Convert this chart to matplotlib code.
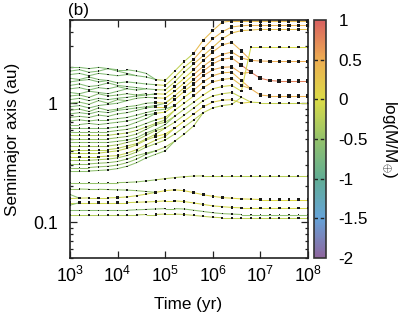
import numpy as np
import matplotlib
matplotlib.use('Agg')
import matplotlib.pyplot as plt
from matplotlib.collections import LineCollection
from matplotlib.colors import LinearSegmentedColormap, Normalize
from matplotlib import ticker

nan = np.nan

# sample times (every 0.2 dex), yr
time_yr = [1.0e3, 1.58e3, 2.51e3, 3.98e3, 6.31e3, 1.0e4, 1.58e4, 2.51e4, 3.98e4, 6.31e4,
           1.0e5, 1.58e5, 2.51e5, 3.98e5, 6.31e5, 1.0e6, 1.58e6, 2.51e6, 3.98e6, 6.31e6,
           1.0e7, 1.58e7, 2.51e7, 3.98e7, 6.31e7, 1.0e8]
# log(M/Mearth) of each body is given at these times
mass_step_yr = [1.0e3, 6.31e4, 3.98e5, 3.98e6]

# bodies that survive the early phase and migrate outward (semimajor axis, au)
rising_a = [
    [1.74, 1.78, 1.70, 1.78, 1.74, 1.70, 1.74, 1.70, 1.66, 1.58, 1.55, 1.86, 2.24, 2.63, 3.39, 4.07, 4.79, 4.90, 4.90, 4.90, 4.90, 4.90, 4.90, 4.90, 4.90, 4.90],
    [1.51, 1.55, 1.58, 1.51, 1.55, 1.48, 1.51, 1.48, 1.45, 1.43, 1.41, 1.66, 2.00, 2.34, 2.88, 3.47, 3.98, 4.37, 4.47, 4.52, 4.52, 4.52, 4.52, 4.52, 4.52, 4.52],
    [1.32, 1.35, 1.29, 1.35, 1.32, 1.38, 1.32, 1.29, 1.32, 1.30, 1.29, 1.51, 1.82, 2.14, 2.51, 2.95, 3.47, 3.89, 4.07, 4.12, 4.17, 4.17, 4.17, 4.17, 4.17, 4.17],
    [1.15, 1.17, 1.12, 1.20, 1.15, 1.17, 1.20, 1.17, 1.20, 1.20, 1.19, 1.38, 1.62, 1.91, 2.29, 2.69, 3.09, 3.24, 2.75, 2.29, 2.26, 2.25, 2.25, 2.25, 2.25, 2.25],
    [1.00, 1.02, 0.98, 1.05, 1.00, 1.07, 1.05, 1.10, 1.12, 1.11, 1.10, 1.26, 1.48, 1.74, 2.04, 2.34, 2.57, 2.69, 2.40, 2.29],
    [0.871, 0.891, 0.851, 0.912, 0.871, 0.891, 0.933, 0.955, 1.00, 1.01, 1.00, 1.15, 1.35, 1.58, 1.86, 2.14, 2.34, 2.40, 2.09, 1.82, 1.62, 1.55, 1.53, 1.53, 1.53, 1.53],
    [0.759, 0.776, 0.759, 0.794, 0.776, 0.813, 0.832, 0.871, 0.912, 0.933, 0.933, 1.07, 1.26, 1.45, 1.70, 1.91, 2.00, 2.02, 1.78, 1.82],
    [0.661, 0.661, 0.676, 0.661, 0.676, 0.692, 0.708, 0.741, 0.794, 0.822, 0.841, 0.955, 1.12, 1.29, 1.51, 1.70, 1.80, 1.82, 1.55, 1.32, 1.17, 1.15, 1.15, 1.15, 1.15, 1.15],
    [0.575, 0.575, 0.575, 0.575, 0.575, 0.589, 0.603, 0.631, 0.676, 0.724, 0.759, 0.871, 1.00, 1.15, 1.35, 1.51, 1.58, 1.62, 1.41, 1.32],
    [0.501, 0.501, 0.501, 0.501, 0.501, 0.513, 0.525, 0.550, 0.603, 0.661, 0.692, 0.776, 0.891, 1.02, 1.17, 1.32, 1.38, 1.41, 1.26, 2.95, 2.95, 2.95, 2.95, 2.95, 2.95, 2.95],
    [0.437, 0.437, 0.437, 0.437, 0.437, 0.447, 0.468, 0.490, 0.537, 0.589, 0.617, 0.692, 0.794, 0.912, 1.05, 1.15, 1.20, 1.23, 1.12, 1.02, 1.01, 1.01, 1.01, 1.01, 1.01, 1.01],
    [0.380, 0.380, 0.380, 0.380, 0.389, 0.398, 0.417, 0.447, 0.490, 0.525, 0.550, 0.617, 0.708, 0.813, 0.933, 1.02, 1.06, 1.07, 1.00, 1.02],
    [0.331, 0.331, 0.331, 0.335, 0.339, 0.347, 0.363, 0.389, 0.427, 0.457, 0.490, 0.550, 0.631, 0.724, 0.832, 0.912, 0.955, 0.977, 1.12],
    [0.288, 0.288, 0.288, 0.292, 0.295, 0.302, 0.316, 0.339, 0.372, 0.398, 0.427, 0.479, 0.550, 0.646, 0.832],
    [0.269, 0.269, 0.269, 0.272, 0.275, 0.282, 0.295, 0.316, 0.347, 0.372, 0.398, 0.479],
]
rising_m = [
    [-0.65, -0.2, 0.35, 0.35], [-0.65, -0.1, 0.4, 0.45], [-0.65, -0.2, 0.3, 0.3],
    [-0.6, 0.0, 0.4, 0.5], [-0.6, 0.05, 0.45, 0.45], [-0.6, 0.1, 0.5, 0.8],
    [-0.6, 0.1, 0.5, 0.5], [-0.6, 0.0, 0.4, 0.45], [-0.55, -0.1, 0.3, 0.3],
    [-0.45, -0.3, -0.05, -0.05], [-0.35, -0.25, -0.15, -0.15], [-0.2, 0.0, 0.1, 0.1],
    [-0.4, -0.3, -0.2, -0.2], [-0.5, -0.3, -0.3, -0.3], [-0.55, -0.5, -0.5, -0.5],
]

# bodies that collide early in the outer belt
merged_a = [
    [2.00, 2.00, 1.95, 2.00, 1.95, 1.91, 1.91, 1.86, 1.78, 1.58],
    [1.86, 1.91, 1.82, 1.86, 1.95, 1.86, 1.78, 1.70],
    [1.62, 1.58, 1.66, 1.58, 1.55],
    [1.41, 1.45, 1.38, 1.41, 1.48, 1.41, 1.38, 1.35, 1.32],
    [1.23, 1.20, 1.26, 1.23, 1.20, 1.26, 1.32],
    [1.07, 1.10, 1.05, 1.10, 1.07, 1.10, 1.12, 1.15, 1.17, 1.20],
    [0.933, 0.955, 0.912, 0.955, 0.977, 1.00, 1.05],
    [0.813, 0.832, 0.813, 0.851, 0.832, 0.871, 0.891, 0.912, 0.933, 0.955, 1.00, 1.15],
    [0.708, 0.724, 0.708, 0.724, 0.724, 0.741, 0.759, 0.794, 0.832, 0.871, 0.891, 0.955],
    [0.617, 0.617, 0.617, 0.617, 0.617, 0.631, 0.646, 0.692, 0.741, 0.822],
    [0.537, 0.537, 0.537, 0.537, 0.537, 0.550, 0.562, 0.589, 0.631, 0.676, 0.724, 0.871],
    [0.468, 0.468, 0.468, 0.468, 0.468, 0.479, 0.490, 0.513, 0.562, 0.603, 0.661, 0.776],
    [0.407, 0.407, 0.407, 0.407, 0.407, 0.417, 0.437, 0.457, 0.501, 0.550, 0.617],
    [0.355, 0.355, 0.355, 0.355, 0.359, 0.363, 0.380, 0.407, 0.447, 0.490, 0.525, 0.617],
    [0.309, 0.309, 0.309, 0.313, 0.316, 0.324, 0.339, 0.363, 0.380, 0.398],
]
merged_m = [-0.65, -0.65, -0.65, -0.65, -0.65, -0.65, -0.65, -0.65,
            -0.6, -0.6, -0.3, -0.55, -0.25, -0.15, -0.5]

# close-in bodies
inner_a = [
    [0.215, 0.215, 0.215, 0.215, 0.215, 0.215, 0.216, 0.218, 0.222, 0.227, 0.232, 0.237, 0.241, 0.244, 0.245, 0.245, 0.245, 0.245, 0.245, 0.245, 0.245, 0.245, 0.245, 0.245, 0.245, 0.245],
    [0.158, 0.159, 0.160, 0.160, 0.160, 0.161, 0.163, 0.167, 0.172, 0.178, 0.184, 0.187, 0.184, 0.177, 0.170, 0.165, 0.161, 0.159, 0.157, 0.156, 0.155, 0.155, 0.155, 0.155, 0.155, 0.155],
    [0.190, 0.190, 0.189, 0.189, 0.188, 0.187, 0.186, 0.184, 0.181, 0.178],
    [0.171, 0.159],
    [0.146, 0.146, 0.146, 0.146, 0.146, 0.146, 0.146, 0.147, 0.148, 0.149, 0.151, 0.151, 0.149, 0.145, 0.141, 0.137, 0.135, 0.133, 0.132, 0.132, 0.132, 0.132, 0.132, 0.132, 0.132, 0.132],
    [0.139, 0.146],
    [0.126, 0.126, 0.126, 0.126, 0.126, 0.126, 0.126, 0.127, 0.128, 0.129, 0.130, 0.130, 0.129, 0.126, 0.123, 0.120, 0.118, 0.117, 0.116, 0.116, 0.116, 0.116, 0.116, 0.116, 0.116, 0.116],
    [0.115, 0.115, 0.115, 0.115, 0.115, 0.115, 0.115, 0.115, 0.116, 0.116, 0.117, 0.117, 0.116, 0.114, 0.112, 0.110, 0.109, 0.109, 0.109, 0.109, 0.109, 0.109, 0.109, 0.109, 0.109, 0.109],
]
inner_m = [[-0.5, -0.3, -0.25, -0.25], [-0.1, 0.05, 0.05, 0.05], -0.5, -0.6,
           [-0.1, -0.05, -0.05, -0.05], -0.6, [-0.6, -0.55, -0.55, -0.55], [-0.3, -0.2, -0.2, -0.2]]

cbar_ticks = [1, 0.5, 0, -0.5, -1, -1.5, -2]
cbar_labels = ['1', '0.5', '0', '-0.5', '-1', '-1.5', '-2']

plt.rcParams['font.family'] = ['Liberation Sans', 'DejaVu Sans']
plt.rcParams['mathtext.fontset'] = 'custom'
plt.rcParams['mathtext.rm'] = 'Liberation Sans'
plt.rcParams['mathtext.it'] = 'Liberation Sans:italic'
plt.rcParams['axes.unicode_minus'] = False
fs = 12.3

cmap = LinearSegmentedColormap.from_list('mass', [
    (0.56, 0.40, 0.62), (0.40, 0.64, 0.85), (0.38, 0.68, 0.58), (0.58, 0.76, 0.42),
    (0.86, 0.86, 0.28), (0.93, 0.68, 0.32), (0.85, 0.38, 0.38)])
norm = Normalize(-2, 1)

fig = plt.figure(figsize=(4.02, 3.2), dpi=100)
ax = fig.add_axes([70/402, 62/320, 238/402, 238/320])
ax.set_xscale('log')
ax.set_yscale('log')
ax.set_xlim(1e3, 1e8)
ax.set_ylim(0.05, 5.0)

t = np.array(time_yr)
k_mass = np.searchsorted(mass_step_yr, t, side='right') - 1

def draw(a, m):
    a = np.array(list(a) + [nan] * (len(t) - len(a)))
    mm = np.atleast_1d(np.array(m, dtype=float))
    mass = mm[np.minimum(k_mass, len(mm) - 1)]
    pts = np.column_stack([t, a])
    segs = np.stack([pts[:-1], pts[1:]], axis=1)
    ok = np.isfinite(a[:-1]) & np.isfinite(a[1:])
    lc = LineCollection(segs[ok], colors=cmap(norm(mass[:-1][ok])), linewidths=0.75, zorder=2)
    ax.add_collection(lc)
    good = np.isfinite(a)
    ms = np.clip(0.9 + 1.3 * (mass[good] + 0.65), 0.8, None)
    ax.scatter(t[good], a[good], s=ms**2, marker='s', c='#1a1a1a', lw=0, zorder=3)

for a, m in zip(merged_a, merged_m):
    draw(a, m)
for a, m in zip(inner_a, inner_m):
    draw(a, m)
for a, m in zip(rising_a, rising_m):
    draw(a, m)

ax.set_xticks([1e3, 1e4, 1e5, 1e6, 1e7, 1e8])
ax.set_xticklabels(['$10^{3}$', '$10^{4}$', '$10^{5}$', '$10^{6}$', '$10^{7}$', '$10^{8}$'])
ax.xaxis.set_minor_locator(ticker.LogLocator(base=10, subs=np.arange(2, 10)))
ax.xaxis.set_minor_formatter(ticker.NullFormatter())
ax.set_yticks([0.1, 1])
ax.set_yticklabels(['0.1', '1'])
ax.yaxis.set_minor_locator(ticker.LogLocator(base=10, subs=np.arange(2, 10)))
ax.yaxis.set_minor_formatter(ticker.NullFormatter())
ax.tick_params(which='both', direction='in', top=True, right=True, color='#222222', width=0.9)
ax.tick_params(which='major', length=5, labelsize=fs + 0.5)
ax.tick_params(which='minor', length=2.5)
ax.tick_params(axis='x', pad=6)
ax.tick_params(axis='y', pad=9)
for s in ax.spines.values():
    s.set_linewidth(1.2)
    s.set_color('#222222')

fig.text(0.03, 0.565, 'Semimajor axis (au)', rotation=90, ha='center', va='center', fontsize=fs)
fig.text(0.468, 0.05, 'Time (yr)', ha='center', va='center', fontsize=fs)
fig.text(68/402, 1 - 11/320, '(b)', ha='left', va='center', fontsize=fs)

cax = fig.add_axes([314/402, 62/320, 12/402, 238/320])
sm = plt.cm.ScalarMappable(cmap=cmap, norm=norm)
cb = fig.colorbar(sm, cax=cax, ticks=cbar_ticks)
cb.set_ticklabels(cbar_labels)
cb.ax.tick_params(length=0, labelsize=fs, pad=9)
cb.outline.set_linewidth(1.2)
cb.outline.set_edgecolor('#333333')
for v in cbar_ticks[1:-1]:
    cax.axhline(v, color='#222222', lw=1.0, ls=(0, (2.5, 2)))
fig.text(0.968, 0.565, r'log(M/M$_{\oplus}$)', rotation=270, ha='center', va='center', fontsize=fs)

fig.savefig('out.png', dpi=100)
